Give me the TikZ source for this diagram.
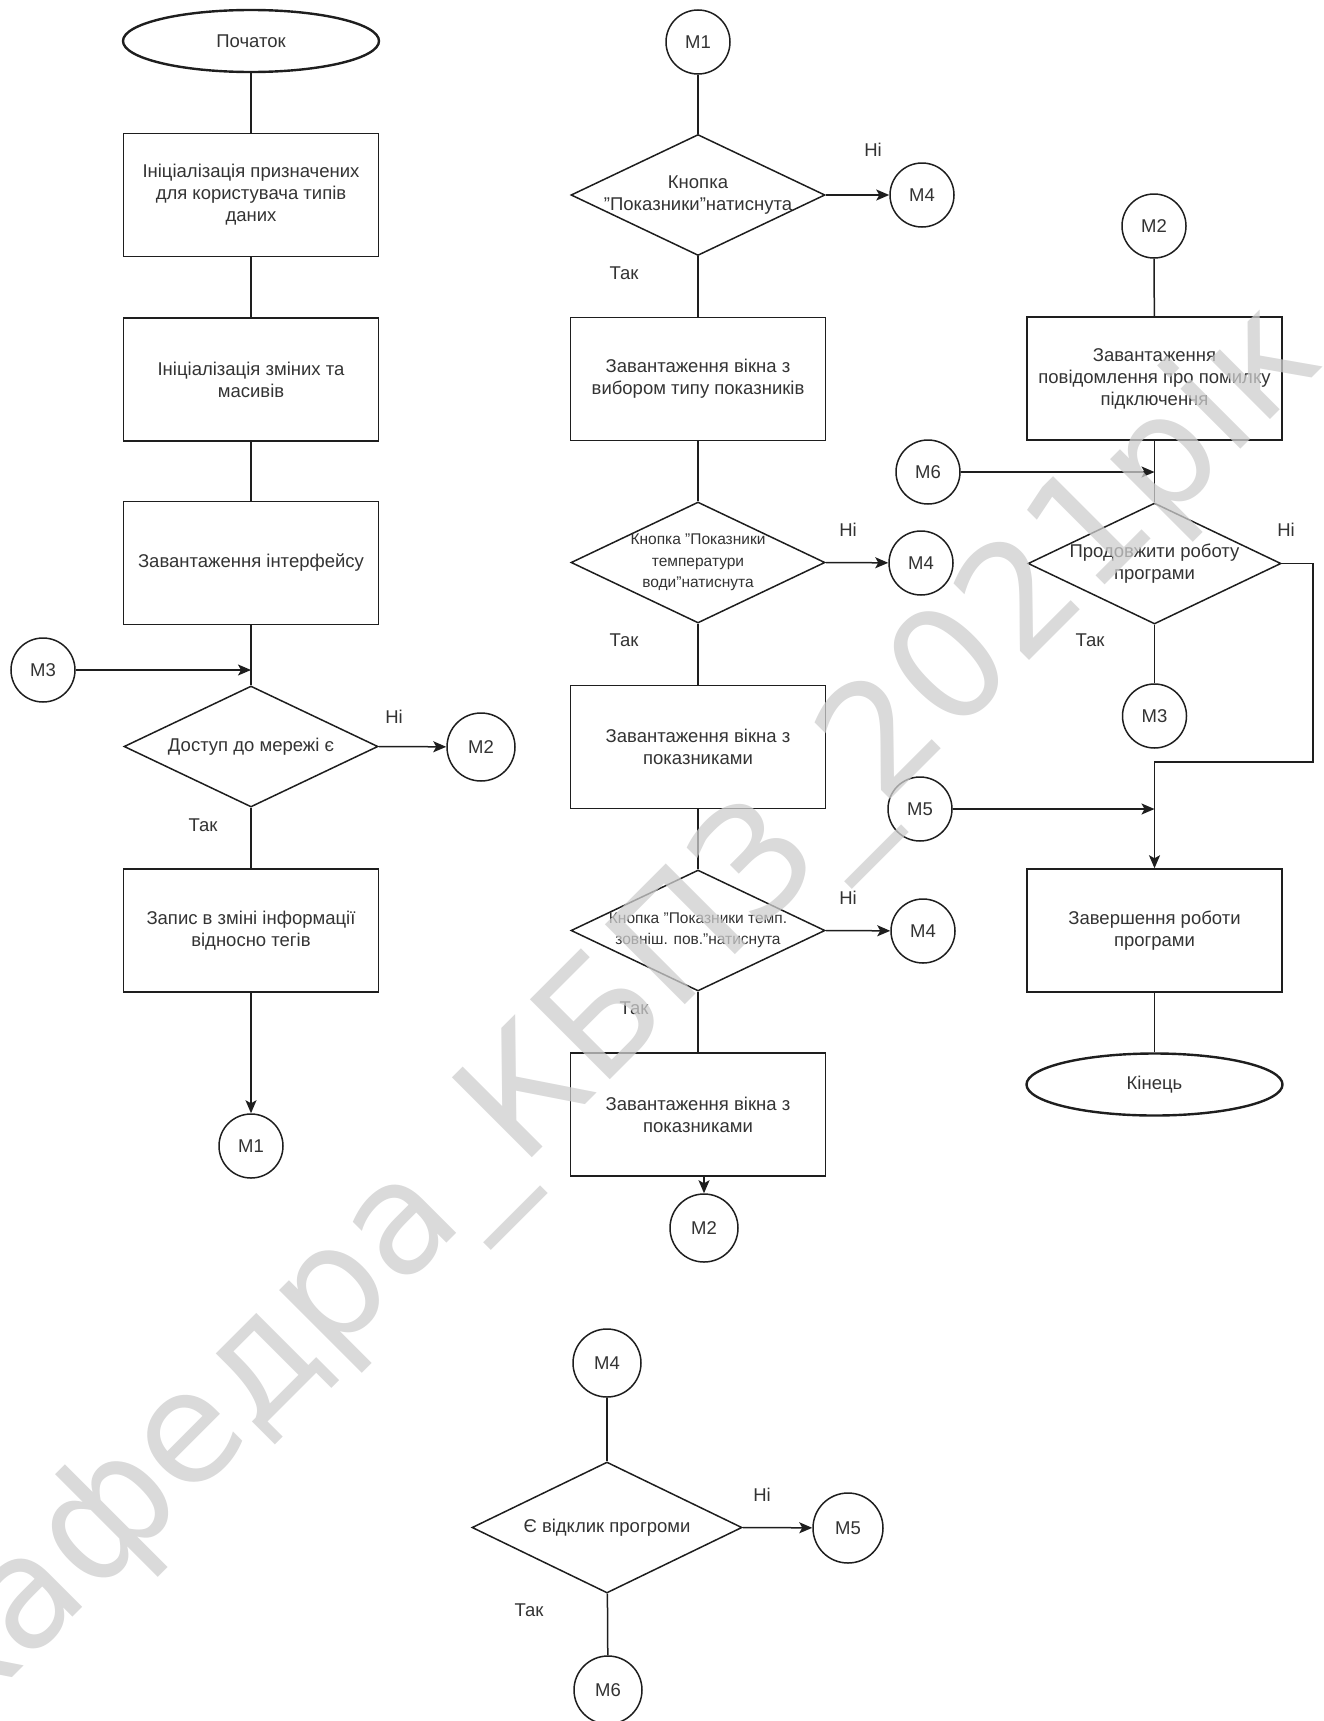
\documentclass[tikz,border=0pt]{standalone}
\usepackage{fontspec}
\setmainfont{Liberation Sans}
\newfontfamily\wmfont{DejaVu Sans}
\usetikzlibrary{shapes.geometric,arrows.meta}
\definecolor{ln}{HTML}{1E1E1E}
\definecolor{tx}{HTML}{333333}
\definecolor{wm}{HTML}{CDCDCD}
\newcommand\fsnorm{\fontsize{18.5}{22}\selectfont}
\newcommand\fssmall{\fontsize{15.5}{21.5}\selectfont}
\newcommand\dq{\symbol{34}}
\tikzset{
 base/.style={draw=ln, line width=1.5pt, inner sep=0pt, text=tx, font=\fsnorm},
 proc/.style={base, rectangle, minimum width=255pt, minimum height=123pt, align=center},
 term/.style={base, ellipse, line width=2.4pt, minimum width=256pt, minimum height=62pt},
 dec/.style={base, diamond, minimum width=254pt, minimum height=121pt},
 conn/.style={base, circle, minimum size=64pt},
 lbl/.style={text=tx, font=\fsnorm, inner sep=0pt},
 dtext/.style={lbl, align=center},
 link/.style={draw=ln, line width=1.5pt},
 arr/.style={link, -{Stealth[length=13pt,width=11pt,inset=3pt]}},
}
\begin{document}
\begin{tikzpicture}[x=1pt,y=-1pt]
\useasboundingbox (0,0) rectangle (1323,1721);

% left column
\node[term] (start) at (251,41) {Початок};
\node[proc] (b1) at (251,195) {Ініціалізація призначених\\для користувача типів\\даних};
\node[proc] (b2) at (251,379.5) {Ініціалізація зміних та\\масивів};
\node[proc] (b3) at (251,563) {Завантаження інтерфейсу};
\node[conn] (m3a) at (43,670) {M3};
\coordinate (jm3) at (251,670);
\node[dec] (d1) at (251,746.5) {};
\node[dtext] (d1t) at (d1) {Доступ до мережі є};
\node[lbl] (d1n) at (394,717) {Ні};
\node[lbl] (d1y) at (203,825) {Так};
\node[conn, minimum size=68pt] (m2a) at (481,747) {M2};
\node[proc] (b4) at (251,930.5) {Запис в зміні інформації\\відносно тегів};
\node[conn] (m1a) at (251,1146) {M1};

% middle column
\node[conn] (m1b) at (698,42) {M1};
\node[dec] (d2) at (698,195) {};
\node[dtext] (d2t) at (d2) {Кнопка\\\dq Показники\dq натиснута};
\node[lbl] (d2n) at (873,150) {Ні};
\node[conn] (m4a) at (922,195) {M4};
\node[lbl] (d2y) at (624,273) {Так};
\node[proc] (b5) at (698,379) {Завантаження вікна з\\вибором типу показників};
\node[dec] (d3) at (698,562.5) {};
\node[dtext, font=\fssmall] (d3t) at (d3) {Кнопка \dq Показники\\температури\\води\dq натиснута};
\node[lbl] (d3n) at (848,530) {Ні};
\node[conn] (m4b) at (921,563) {M4};
\node[lbl] (d3y) at (624,640) {Так};
\node[proc] (b6) at (698,747) {Завантаження вікна з\\показниками};
\node[dec] (d4) at (698,930.5) {};
\node[dtext, font=\fssmall] (d4t) at (d4) {Кнопка \dq Показники темп.\\зовніш. пов.\dq натиснута};
\node[lbl] (d4n) at (848,898) {Ні};
\node[conn] (m4c) at (923,931) {M4};
\node[lbl] (d4y) at (634,1008) {Так};
\node[proc] (b7) at (698,1114.5) {Завантаження вікна з\\показниками};
\node[conn, minimum size=68pt] (m2b) at (704,1228) {M2};

% right column
\node[conn] (m2c) at (1154,226) {M2};
\node[proc] (b8) at (1154.5,378.5) {Завантаження\\повідомлення про помилку\\підключення};
\node[conn] (m6a) at (928,472) {M6};
\coordinate (j1) at (1154.5,472);
\node[dec, minimum width=253pt] (d5) at (1154.5,563.5) {};
\node[dtext] (d5t) at (d5) {Продовжити роботу\\програми};
\node[lbl] (d5n) at (1286,530) {Ні};
\node[lbl] (d5y) at (1090,640) {Так};
\node[conn] (m3b) at (1154.5,716) {M3};
\coordinate (r1) at (1313,563.5);
\coordinate (r2) at (1313,762);
\coordinate (r3) at (1154.5,762);
\node[conn] (m5a) at (920,809) {M5};
\coordinate (j2) at (1154.5,809);
\node[proc] (b9) at (1154.5,930.5) {Завершення роботи\\програми};
\node[term] (end) at (1154.5,1084.5) {Кінець};

% bottom
\node[conn, minimum size=68pt] (m4d) at (607,1363) {M4};
\node[dec, minimum width=270pt, minimum height=131pt] (d6) at (607,1527.5) {};
\node[dtext] (d6t) at (d6) {Є відклик прогроми};
\node[lbl] (d6n) at (762,1495) {Ні};
\node[conn, minimum size=70pt] (m5b) at (848,1528) {M5};
\node[lbl] (d6y) at (529,1610) {Так};
\node[conn, minimum size=68pt] (m6b) at (608,1690) {M6};

% connectors left
\draw[link] (start) -- (b1);
\draw[link] (b1) -- (b2);
\draw[link] (b2) -- (b3);
\draw[link] (b3) -- (d1);
\draw[arr] (m3a) -- (jm3);
\draw[arr] (d1.east) -- (m2a);
\draw[link] (d1) -- (b4);
\draw[arr] (b4) -- (m1a);
% middle
\draw[link] (m1b) -- (d2);
\draw[arr] (d2.east) -- (m4a);
\draw[link] (d2) -- (b5);
\draw[link] (b5) -- (d3);
\draw[arr] (d3.east) -- (m4b);
\draw[link] (d3) -- (b6);
\draw[link] (b6) -- (d4);
\draw[arr] (d4.east) -- (m4c);
\draw[link] (d4) -- (b7);
\draw[arr] (b7.south -| m2b) -- (m2b);
% right
\draw[link] (m2c) -- (b8);
\draw[link] (b8) -- (d5);
\draw[arr] (m6a) -- (j1);
\draw[link] (d5) -- (m3b);
\draw[arr] (d5.east) -- (r1) -- (r2) -- (r3) -- (b9.north);
\draw[arr] (m5a) -- (j2);
\draw[link] (b9) -- (end);
% bottom
\draw[link] (m4d) -- (d6);
\draw[arr] (d6.east) -- (m5b);
\draw[link] (d6) -- (m6b);

% watermark
\begin{scope}
\clip (0,0) rectangle (1323,1721);
\node[anchor=base west, rotate=45, text=wm, opacity=0.75, inner sep=0pt,
      font=\wmfont\fontsize{155}{160}\selectfont] (wmk) at (-52,1742) {Кафедра\_КБПЗ\_2021рік};
\end{scope}
\end{tikzpicture}
\end{document}
